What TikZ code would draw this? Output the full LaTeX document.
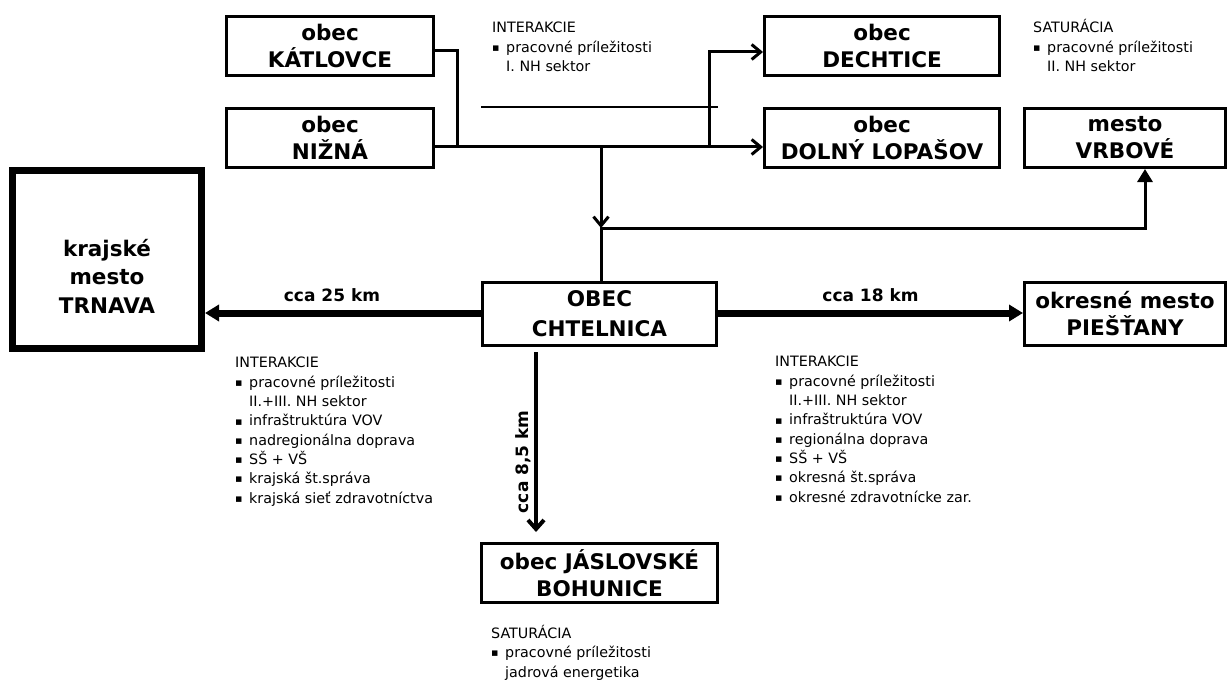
\documentclass[tikz,border=0pt]{standalone}
\usepackage{fontspec}
\setmainfont{DejaVu Sans}
\usetikzlibrary{arrows.meta, positioning}

\newcommand{\nbul}{\makebox[14pt][l]{\raisebox{0.8pt}{\fontsize{11}{11}\selectfont▪}}}
\newcommand{\nind}{\hspace*{14pt}}

\begin{document}
\begin{tikzpicture}[
    x=1pt, y=-1pt,
    box/.style={rectangle, draw, line width=3pt, minimum width=207pt, minimum height=59pt, inner sep=1pt, align=center, font=\fontsize{21.5}{27}\selectfont\bfseries},
    bigbox/.style={rectangle, draw, line width=7pt, minimum width=189pt, minimum height=178pt},
    boxtext/.style={align=center, inner sep=0pt, font=\fontsize{21.5}{28.5}\selectfont\bfseries},
    note/.style={anchor=base west, inner sep=0pt, align=left, font=\fontsize{14.3}{19.3}\selectfont},
    dist/.style={font=\fontsize{17}{20}\selectfont\bfseries},
    link/.style={line width=3pt},
    arrow/.style={link, -{Straight Barb[length=9pt, width=15pt]}},
    road/.style={line width=7pt, -{Triangle[length=14pt, width=16pt]}}
]
\useasboundingbox (0,0) rectangle (1229,682);

% Villages north
\node[box] (katlovce) at (330,46) {obec\\KÁTLOVCE};
\node[box, below=30pt of katlovce] (nizna) {obec\\NIŽNÁ};
\node[box, minimum width=235pt] (dechtice) at (882,46) {obec\\DECHTICE};
\node[box, minimum width=235pt, below=30pt of dechtice] (lopasov) {obec\\DOLNÝ LOPAŠOV};
\node[box, minimum width=201pt] (vrbove) at (1125,138) {mesto\\VRBOVÉ};

% Centre and towns
\node[box, minimum width=234pt, minimum height=63pt] (chtelnica) at (599.5,314) {OBEC\\[3pt]CHTELNICA};
\node[bigbox] (trnava) at (107,259.5) {};
\node[boxtext] (trnavatext) at (107,276) {krajské\\mesto\\TRNAVA};
\node[box, minimum width=201pt, minimum height=63pt] (piestany) at (1125,314) {okresné mesto\\PIEŠŤANY};
\node[box, minimum width=236pt] (bohunice) at (599.5,573) {obec JÁSLOVSKÉ\\BOHUNICE};

% Notes (anchored at the last line)
\node[note] (intnorth) at (492,71.6) {INTERAKCIE\\\nbul pracovné príležitosti\\\nind I. NH sektor};
\node[note] (satnorth) at (1033,71.6) {SATURÁCIA\\\nbul pracovné príležitosti\\\nind II. NH sektor};
\node[note] (intwest) at (235,503) {INTERAKCIE\\\nbul pracovné príležitosti\\\nind II.+III. NH sektor\\\nbul infraštruktúra VOV\\\nbul nadregionálna doprava\\\nbul SŠ + VŠ\\\nbul krajská št.správa\\\nbul krajská sieť zdravotníctva};
\node[note] (inteast) at (775,502) {INTERAKCIE\\\nbul pracovné príležitosti\\\nind II.+III. NH sektor\\\nbul infraštruktúra VOV\\\nbul regionálna doprava\\\nbul SŠ + VŠ\\\nbul okresná št.správa\\\nbul okresné zdravotnícke zar.};
\node[note] (satsouth) at (491,677) {SATURÁCIA\\\nbul pracovné príležitosti\\\nind jadrová energetika};

% Junctions
\coordinate (wjoin) at (457,147);
\coordinate (ejoin) at (709,147);
\coordinate (drop) at (601,147);
\coordinate (hub) at (601,228);
\coordinate (sepa) at (481,107);
\coordinate (sepb) at (718,107);

% Links north
\draw[link] ([yshift=-5]katlovce.east) -| (wjoin);
\draw[arrow] ([yshift=-9]nizna.east) -- ([yshift=-9]lopasov.west);
\draw[arrow] (ejoin) |- ([yshift=-6]dechtice.west);
\draw[arrow] (drop) -- (hub);
\draw[link, -{Triangle[length=13pt, width=15pt]}] ([xshift=1.5]chtelnica.north) -- (hub) -| ([xshift=20]vrbove.south);
\draw[line width=2pt] (sepa) -- (sepb);

% Roads
\draw[road] ([yshift=1]chtelnica.west) -- ([yshift=1]chtelnica.west -| trnava.east) node[dist, pos=0.54, above=4pt] {cca 25 km};
\draw[road] ([yshift=1]chtelnica.east) -- ([yshift=1]chtelnica.east -| piestany.west) node[dist, midway, above=4pt] {cca 18 km};
\draw[line width=4pt, -{Straight Barb[length=9pt, width=16pt]}] ([xshift=-63.5, yshift=-5]chtelnica.south) -- ([xshift=-63.5, yshift=10]bohunice.north) node[dist, pos=0.61, rotate=90, anchor=south] {cca 8,5 km};

\end{tikzpicture}
\end{document}
